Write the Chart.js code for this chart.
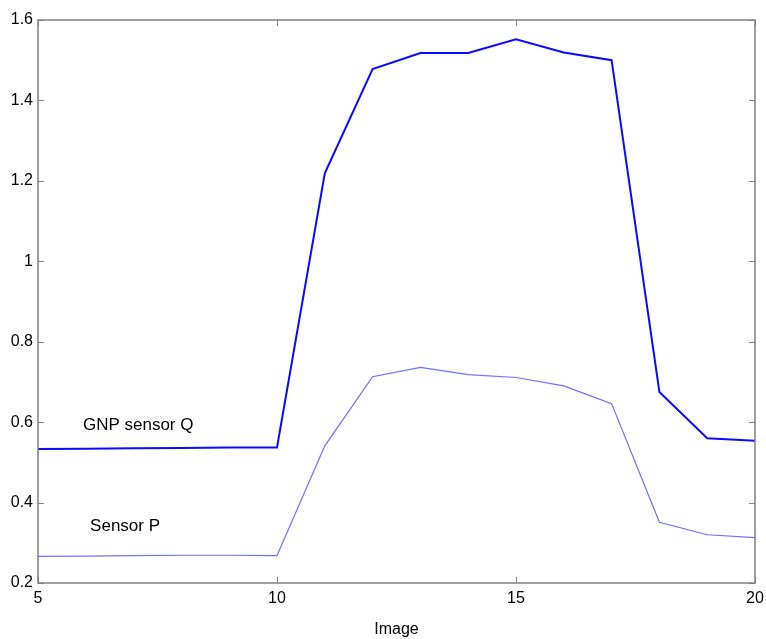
<!DOCTYPE html>
<html>
<head>
<meta charset="utf-8">
<script src="https://cdn.jsdelivr.net/npm/chart.js@4.4.1/dist/chart.umd.min.js"></script>
<style>
  html, body { margin: 0; padding: 0; background: #fff; }
  #wrap { width: 766px; height: 639px; }
</style>
</head>
<body>
<div id="wrap"><canvas id="chart"></canvas></div>
<script>
// image number
const images = [5, 6, 7, 8, 9, 10, 11, 12, 13, 14, 15, 16, 17, 18, 19, 20];
// GNP sensor Q response
const sensorQ = [0.533, 0.534, 0.535, 0.536, 0.537, 0.537, 1.219, 1.478, 1.518, 1.518, 1.552, 1.519, 1.500, 0.675, 0.560, 0.554];
// sensor P response
const sensorP = [0.266, 0.267, 0.268, 0.269, 0.269, 0.268, 0.541, 0.713, 0.736, 0.718, 0.711, 0.690, 0.646, 0.351, 0.320, 0.313];

const xTicks = [5, 10, 15, 20];
const yTicks = [0.2, 0.4, 0.6, 0.8, 1, 1.2, 1.4, 1.6];

// labels placed next to the curves, in data coordinates
const curveLabels = [
  { text: 'GNP sensor Q', x: 5.94, y: 0.592 },
  { text: 'Sensor P', x: 6.09, y: 0.34 }
];

const axisColor = '#808080';
const fontFamily = '"Liberation Sans", Arial, sans-serif';

const toPoints = (vals) => vals.map((v, i) => ({ x: images[i], y: v }));

// box round the plot + matlab style ticks pointing inward
const boxPlugin = {
  id: 'box',
  afterDatasetsDraw(chart) {
    const { ctx, chartArea: { left, right, top, bottom }, scales: { x, y } } = chart;
    ctx.save();
    ctx.strokeStyle = axisColor;
    ctx.lineWidth = 1.5;
    ctx.strokeRect(left, top, right - left, bottom - top);
    ctx.lineWidth = 1;
    const len = 6;
    ctx.beginPath();
    xTicks.forEach(v => {
      const px = Math.round(x.getPixelForValue(v)) + 0.5;
      ctx.moveTo(px, bottom); ctx.lineTo(px, bottom - len);
      ctx.moveTo(px, top); ctx.lineTo(px, top + len);
    });
    yTicks.forEach(v => {
      const py = Math.round(y.getPixelForValue(v)) + 0.5;
      ctx.moveTo(left, py); ctx.lineTo(left + len, py);
      ctx.moveTo(right, py); ctx.lineTo(right - len, py);
    });
    ctx.stroke();

    ctx.fillStyle = '#000';
    ctx.font = `17px ${fontFamily}`;
    ctx.textAlign = 'left';
    ctx.textBaseline = 'middle';
    curveLabels.forEach(l => {
      ctx.fillText(l.text, x.getPixelForValue(l.x), y.getPixelForValue(l.y));
    });
    ctx.restore();
  }
};

new Chart(document.getElementById('chart'), {
  type: 'scatter',
  data: {
    datasets: [
      {
        label: 'GNP sensor Q',
        data: toPoints(sensorQ),
        showLine: true,
        borderColor: '#0a0aff',
        borderWidth: 2,
        pointRadius: 0,
        tension: 0
      },
      {
        label: 'Sensor P',
        data: toPoints(sensorP),
        showLine: true,
        borderColor: '#6e6eff',
        borderWidth: 1.2,
        pointRadius: 0,
        tension: 0
      }
    ]
  },
  plugins: [boxPlugin],
  options: {
    responsive: true,
    maintainAspectRatio: false,
    animation: false,
    layout: { padding: { top: 20, right: 0, left: 0, bottom: 0 } },
    plugins: {
      legend: { display: false },
      tooltip: { enabled: false }
    },
    scales: {
      x: {
        type: 'linear',
        min: 5,
        max: 20,
        afterBuildTicks: s => { s.ticks = xTicks.map(v => ({ value: v })); },
        afterFit: s => { s.height = 56; s.paddingLeft = 0; s.paddingRight = 11; },
        grid: { drawOnChartArea: false, drawTicks: false },
        border: { display: false },
        ticks: {
          color: '#000',
          padding: 6,
          font: { family: fontFamily, size: 16 },
          maxRotation: 0
        },
        title: {
          display: true,
          text: 'Image',
          color: '#000',
          font: { family: fontFamily, size: 16 },
          padding: { top: 0, bottom: 0 }
        }
      },
      y: {
        min: 0.2,
        max: 1.6,
        afterBuildTicks: s => { s.ticks = yTicks.map(v => ({ value: v })); },
        afterFit: s => { s.width = 38; s.paddingTop = 0; s.paddingBottom = 0; },
        grid: { drawOnChartArea: false, drawTicks: false },
        border: { display: false },
        ticks: {
          color: '#000',
          padding: 5,
          font: { family: fontFamily, size: 16 },
          callback: v => String(Math.round(v * 10) / 10)
        }
      }
    }
  }
});
</script>
</body>
</html>
